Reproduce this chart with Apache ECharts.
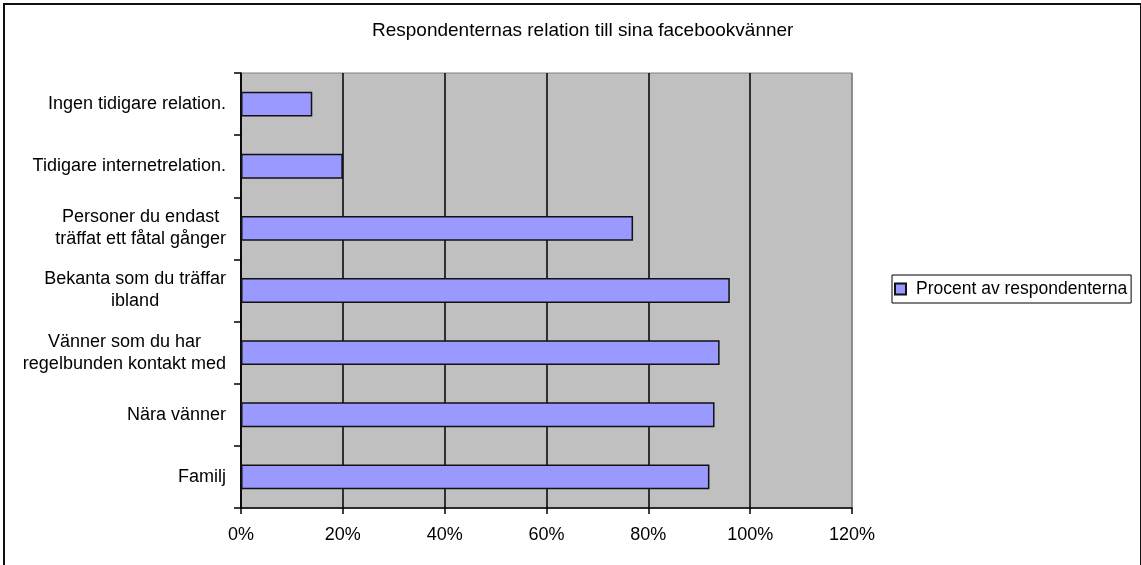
<!DOCTYPE html>
<html>
<head>
<meta charset="utf-8">
<script src="https://cdn.jsdelivr.net/npm/echarts@6/dist/echarts.min.js"></script>
<style>
html,body{margin:0;padding:0;background:#fff;}
#chart{width:1141px;height:565px;}
</style>
</head>
<body>
<div id="chart"></div>
<script>
// kategorier nerifrån och upp (y-axeln ritas från botten)
var categories = [
    'Familj',
    'Nära vänner',
    'Vänner som du har\nregelbunden kontakt med',
    'Bekanta som du träffar\nibland',
    'Personer du endast\nträffat ett fåtal gånger',
    'Tidigare internetrelation.',
    'Ingen tidigare relation.'
];
var values = [92, 93, 94, 96, 77, 20, 14];
var tickLabels = ['0%', '20%', '40%', '60%', '80%', '100%', '120%'];
var seriesName = 'Procent av respondenterna';
var titleText = 'Respondenternas relation till sina facebookvänner';

var font = '"Liberation Sans", Arial, sans-serif';
var chart = echarts.init(document.getElementById('chart'));

var option = {
    animation: false,
    textStyle: { fontFamily: font, color: '#000' },
    title: {
        text: titleText,
        left: 372,
        top: 21,
        padding: 0,
        textStyle: { fontFamily: font, fontSize: 19, fontWeight: 'normal', color: '#000' }
    },
    legend: {
        left: 892,
        top: 275,
        orient: 'vertical',
        padding: [5, 4, 5, 2],
        borderColor: '#000',
        borderWidth: 1,
        itemWidth: 11,
        itemHeight: 11,
        icon: 'rect',
        textStyle: { fontFamily: font, fontSize: 17.5, color: '#000', padding: [0, 0, 0, 5] },
        data: [seriesName]
    },
    grid: {
        left: 241,
        right: 289,
        top: 73,
        bottom: 57,
        show: true,
        backgroundColor: '#c0c0c0',
        borderColor: '#808080',
        borderWidth: 1
    },
    xAxis: {
        type: 'value',
        min: 0,
        max: 120,
        interval: 20,
        axisLine: { show: true, lineStyle: { color: '#000', width: 1.5 } },
        axisTick: { show: true, length: 6, lineStyle: { color: '#000', width: 1.5 } },
        axisLabel: {
            margin: 18,
            fontSize: 18,
            color: '#000',
            fontFamily: font,
            formatter: function (v) { return tickLabels[Math.round(v / 20)]; }
        },
        splitLine: {
            show: true,
            lineStyle: { color: ['#000', '#000', '#000', '#000', '#000', '#000', '#808080'], width: 1.5 }
        }
    },
    yAxis: {
        type: 'category',
        data: categories,
        axisLine: { show: true, lineStyle: { color: '#000', width: 1.5 } },
        axisTick: { show: true, length: 7, lineStyle: { color: '#000', width: 1.5 } },
        axisLabel: {
            margin: 15,
            color: '#000',
            fontSize: 18,
            fontFamily: font,
            lineHeight: 22,
            formatter: function (v) {
                return v.split('\n').map(function (s) { return '{c|' + s + '}'; }).join('\n');
            },
            rich: {
                c: { align: 'center', fontSize: 18, lineHeight: 22, fontFamily: font, color: '#000' }
            }
        }
    },
    series: [
        {
            name: seriesName,
            type: 'bar',
            barWidth: '40%',
            itemStyle: { color: '#9999ff', borderColor: '#111', borderWidth: 1.5 },
            data: values
        }
    ],
    graphic: [
        {
            type: 'rect',
            silent: true,
            shape: { x: 4, y: 4, width: 1137, height: 600 },
            style: { fill: 'none', stroke: '#111', lineWidth: 2 }
        }
    ]
};

chart.setOption(option);
</script>
</body>
</html>
